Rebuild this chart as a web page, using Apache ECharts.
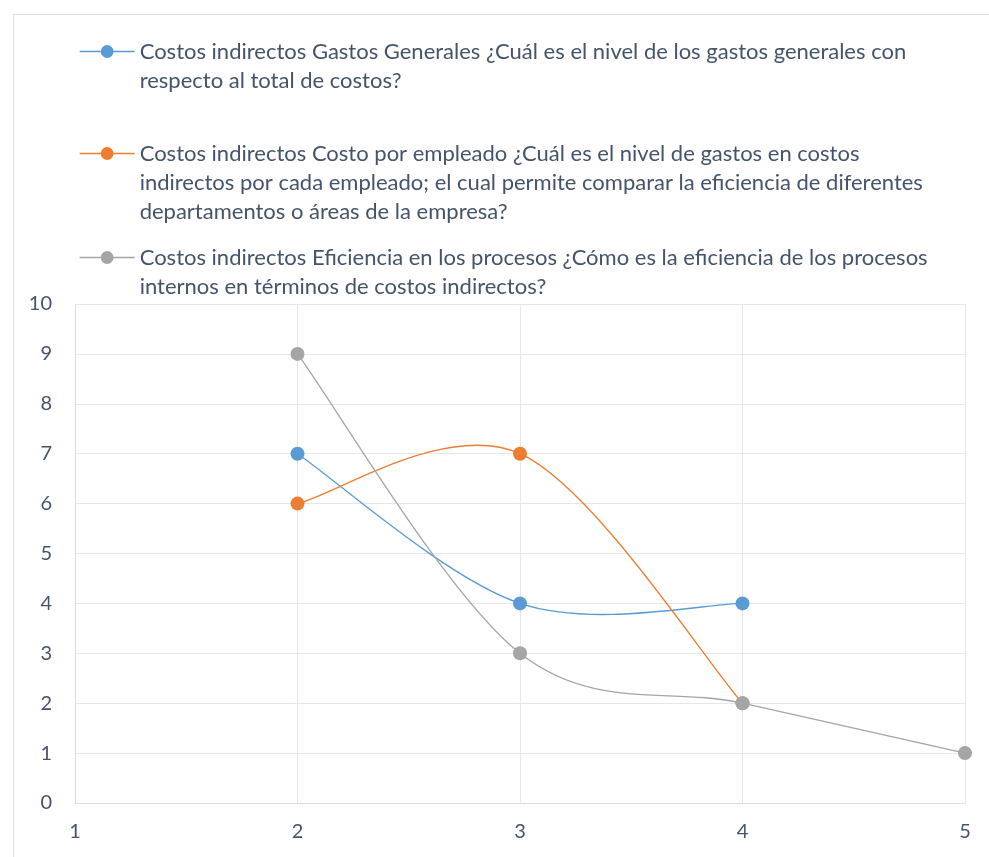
<!DOCTYPE html>
<html>
<head>
<meta charset="utf-8">
<script src="https://cdn.jsdelivr.net/npm/echarts@6/dist/echarts.min.js"></script>
<style>
  html, body { margin: 0; padding: 0; background: #fff; }
  #main { width: 989px; height: 857px; }
</style>
</head>
<body>
<div id="main"></div>
<script>
// series names (as in the sheet) and the wrapped text shown in the legend
var seriesNames = [
  'Costos indirectos Gastos Generales ¿Cuál es el nivel de los gastos generales con respecto al total de costos?',
  'Costos indirectos Costo por empleado ¿Cuál es el nivel de gastos en costos indirectos por cada empleado; el cual permite comparar la eficiencia de diferentes departamentos o áreas de la empresa?',
  'Costos indirectos Eficiencia en los procesos ¿Cómo es la eficiencia de los procesos internos en términos de costos indirectos?'
];
var legendLines = [
  ['Costos indirectos Gastos Generales ¿Cuál es el nivel de los gastos generales con', 'respecto al total de costos?'],
  ['Costos indirectos Costo por empleado ¿Cuál es el nivel de gastos en costos', 'indirectos por cada empleado; el cual permite comparar la eficiencia de diferentes', 'departamentos o áreas de la empresa?'],
  ['Costos indirectos Eficiencia en los procesos ¿Cómo es la eficiencia de los procesos', 'internos en términos de costos indirectos?']
];

// x values and y values per series
var gastosX = [2, 3, 4];
var gastosY = [7, 4, 4];
var empleadoX = [2, 3, 4];
var empleadoY = [6, 7, 2];
var eficienciaX = [2, 3, 4, 5];
var eficienciaY = [9, 3, 2, 1];

var colors = ['#5B9BD5', '#ED7D31', '#A5A5A5'];
var textColor = '#44546A';
var fontFamily = 'Lato, "Open Sans", sans-serif';
var lineW = 1.3;

function pairs(xs, ys) {
  return xs.map(function (x, i) { return [x, ys[i]]; });
}
var allData = [
  pairs(gastosX, gastosY),
  pairs(empleadoX, empleadoY),
  pairs(eficienciaX, eficienciaY)
];

var chart = echarts.init(document.getElementById('main'));

// legend icon is centred on the text block, so put blank lines above
// to bring the icon level with the first real line
function legendText(idx) {
  var lines = legendLines[idx].slice();
  var n = lines.length;
  for (var k = 0; k < n - 1; k++) lines.unshift(' ');
  return lines.join('\n');
}

var legendTops = [8, 81, 214];
var legends = seriesNames.map(function (name, i) {
  return {
    show: true,
    data: [name],
    left: 79,
    top: legendTops[i],
    orient: 'vertical',
    itemWidth: 55,
    itemHeight: 16,
    itemGap: 0,
    padding: 0,
    selectedMode: false,
    lineStyle: { color: colors[i], width: lineW, opacity: 1 },
    formatter: function () { return legendText(i); },
    textStyle: {
      color: textColor,
      fontFamily: fontFamily,
      fontSize: 22,
      lineHeight: 29
    }
  };
});

// Excel style smoothed line: cubic bezier, control points at +-(next-prev)/6
function splineItem(idx) {
  return function (params, api) {
    if (params.dataIndex !== 0) return null;
    var pts = allData[idx].map(function (d) { return api.coord(d); });
    var n = pts.length;
    var path = 'M' + pts[0][0] + ' ' + pts[0][1];
    for (var i = 0; i < n - 1; i++) {
      var p0 = pts[Math.max(i - 1, 0)];
      var p1 = pts[i];
      var p2 = pts[i + 1];
      var p3 = pts[Math.min(i + 2, n - 1)];
      var c1x = p1[0] + (p2[0] - p0[0]) / 6;
      var c1y = p1[1] + (p2[1] - p0[1]) / 6;
      var c2x = p2[0] - (p3[0] - p1[0]) / 6;
      var c2y = p2[1] - (p3[1] - p1[1]) / 6;
      path += ' C' + c1x + ' ' + c1y + ' ' + c2x + ' ' + c2y + ' ' + p2[0] + ' ' + p2[1];
    }
    return {
      type: 'path',
      shape: { pathData: path },
      style: { fill: 'none', stroke: colors[idx], lineWidth: lineW }
    };
  };
}

var series = [];
allData.forEach(function (data, i) {
  series.push({
    name: 'curve' + i,
    type: 'custom',
    coordinateSystem: 'cartesian2d',
    data: data,
    renderItem: splineItem(i),
    z: 2,
    silent: true
  });
});
allData.forEach(function (data, i) {
  series.push({
    name: seriesNames[i],
    type: 'line',
    data: data,
    symbol: 'circle',
    symbolSize: 14,
    itemStyle: { color: colors[i] },
    lineStyle: { color: colors[i], width: 0, opacity: 0 },
    z: 3 + i
  });
});

var option = {
  backgroundColor: '#ffffff',
  animation: false,
  color: colors,
  legend: legends,
  graphic: [{
    type: 'rect',
    left: 11,
    top: 12,
    shape: { width: 1000, height: 900 },
    style: { fill: 'none', stroke: '#DDE1E8', lineWidth: 1 },
    silent: true
  }],
  grid: {
    left: 75,
    right: 24,
    top: 304,
    bottom: 54,
    containLabel: false
  },
  xAxis: {
    type: 'value',
    min: 1,
    max: 5,
    interval: 1,
    axisLine: { show: true, lineStyle: { color: '#D9DDE6', width: 1 } },
    axisTick: { show: false },
    splitLine: { show: true, lineStyle: { color: '#E4E7EE', width: 1 } },
    axisLabel: {
      color: textColor,
      fontFamily: fontFamily,
      fontSize: 20,
      margin: 19
    }
  },
  yAxis: {
    type: 'value',
    min: 0,
    max: 10,
    interval: 1,
    axisLine: { show: true, lineStyle: { color: '#D9DDE6', width: 1 } },
    axisTick: { show: false },
    splitLine: { show: true, lineStyle: { color: '#E4E7EE', width: 1 } },
    axisLabel: {
      color: textColor,
      fontFamily: fontFamily,
      fontSize: 20,
      margin: 23
    }
  },
  series: series
};

chart.setOption(option);
</script>
</body>
</html>
